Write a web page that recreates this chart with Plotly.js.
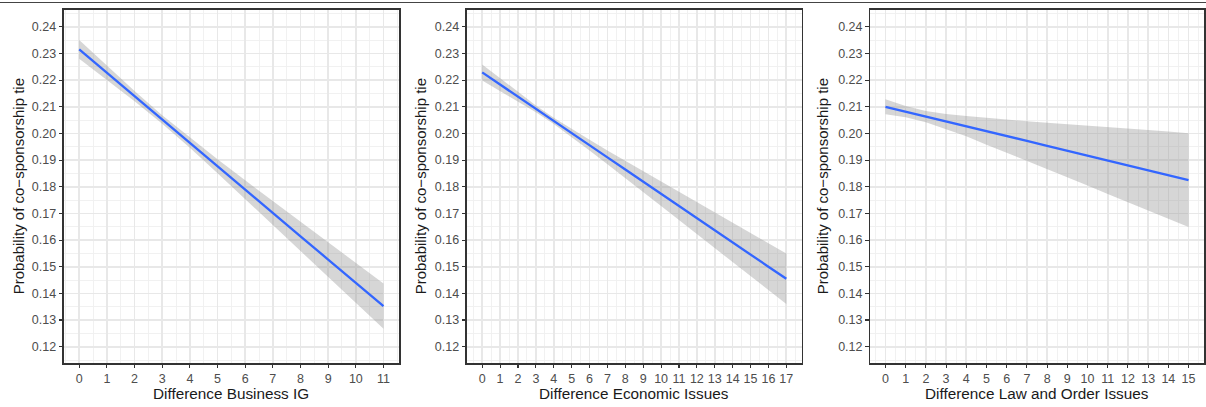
<!DOCTYPE html>
<html>
<head>
<meta charset="utf-8">
<script src="https://cdn.plot.ly/plotly-3.0.1.min.js"></script>
<style>html,body{margin:0;padding:0;background:#fff;}#chart{width:1206px;height:407px;}</style>
</head>
<body>
<div id="chart"></div>
<script>
// ---- data ----
const yTitle = "Probability of co\u2212sponsorship tie";
const xTitles = ["Difference Business IG", "Difference Economic Issues", "Difference Law and Order Issues"];

const bizX     = [0, 1, 2, 3, 4, 5, 6, 7, 8, 9, 10, 11];
const bizFit   = [0.2315, 0.2227, 0.2140, 0.2052, 0.1965, 0.1877, 0.1789, 0.1702, 0.1614, 0.1527, 0.1439, 0.1352];
const bizUpper = [0.2350, 0.2253, 0.2159, 0.2068, 0.1984, 0.1903, 0.1824, 0.1747, 0.1668, 0.1591, 0.1514, 0.1437];
const bizLower = [0.2280, 0.2201, 0.2121, 0.2036, 0.1946, 0.1851, 0.1754, 0.1657, 0.1560, 0.1463, 0.1364, 0.1267];

const ecoX     = [0, 1, 2, 3, 4, 5, 6, 7, 8, 9, 10, 11, 12, 13, 14, 15, 16, 17];
const ecoFit   = [0.2229, 0.2183, 0.2138, 0.2092, 0.2047, 0.2001, 0.1956, 0.1910, 0.1865, 0.1819, 0.1774, 0.1728, 0.1683, 0.1637, 0.1592, 0.1546, 0.1500, 0.1455];
const ecoUpper = [0.2259, 0.2207, 0.2156, 0.2105, 0.2059, 0.2016, 0.1976, 0.1936, 0.1897, 0.1858, 0.1820, 0.1781, 0.1743, 0.1704, 0.1666, 0.1627, 0.1588, 0.1550];
const ecoLower = [0.2199, 0.2159, 0.2120, 0.2079, 0.2035, 0.1986, 0.1936, 0.1884, 0.1833, 0.1780, 0.1728, 0.1675, 0.1623, 0.1570, 0.1518, 0.1465, 0.1412, 0.1360];

const lawX     = [0, 1, 2, 3, 4, 5, 6, 7, 8, 9, 10, 11, 12, 13, 14, 15];
const lawFit   = [0.2100, 0.2082, 0.2063, 0.2045, 0.2027, 0.2008, 0.1990, 0.1972, 0.1953, 0.1935, 0.1917, 0.1898, 0.1880, 0.1862, 0.1843, 0.1825];
const lawUpper = [0.2128, 0.2103, 0.2084, 0.2073, 0.2065, 0.2058, 0.2052, 0.2046, 0.2040, 0.2035, 0.2029, 0.2023, 0.2018, 0.2013, 0.2007, 0.2001];
const lawLower = [0.2072, 0.2061, 0.2042, 0.2017, 0.1989, 0.1958, 0.1928, 0.1898, 0.1866, 0.1835, 0.1805, 0.1773, 0.1742, 0.1711, 0.1679, 0.1649];

const yTickVals = [0.12, 0.13, 0.14, 0.15, 0.16, 0.17, 0.18, 0.19, 0.20, 0.21, 0.22, 0.23, 0.24];
const yTickText = ["0.12", "0.13", "0.14", "0.15", "0.16", "0.17", "0.18", "0.19", "0.20", "0.21", "0.22", "0.23", "0.24"];

// ---- layout ----
const W = 1206, H = 407;
const panels = [
  {x: bizX, fit: bizFit, up: bizUpper, lo: bizLower, px: [64, 398.7], title: xTitles[0], ytx: 18},
  {x: ecoX, fit: ecoFit, up: ecoUpper, lo: ecoLower, px: [467, 801.5], title: xTitles[1], ytx: 420},
  {x: lawX, fit: lawFit, up: lawUpper, lo: lawLower, px: [870.3, 1203.7], title: xTitles[2], ytx: 822}
];
const plotTop = 10, plotBot = 362.7;
const yDomain = [1 - plotBot / H, 1 - plotTop / H];

const traces = [];
const layout = {
  width: W, height: H,
  margin: {l: 0, r: 0, t: 0, b: 0},
  paper_bgcolor: '#ffffff', plot_bgcolor: '#ffffff',
  showlegend: false,
  font: {family: 'Liberation Sans, Arial, sans-serif', color: '#4d4d4d', size: 12},
  annotations: [],
  shapes: [{type: 'line', xref: 'paper', yref: 'paper', x0: 0, x1: 1, y0: 1 - 2.5 / H, y1: 1 - 2.5 / H,
            line: {color: '#444444', width: 1}}]
};

panels.forEach((p, i) => {
  const n = i === 0 ? '' : String(i + 1);
  const xa = 'x' + n, ya = 'y' + n;
  traces.push({x: p.x, y: p.up, xaxis: xa, yaxis: ya, mode: 'lines', line: {width: 0, color: 'rgba(0,0,0,0)'}, hoverinfo: 'skip'});
  traces.push({x: p.x, y: p.lo, xaxis: xa, yaxis: ya, mode: 'lines', line: {width: 0, color: 'rgba(0,0,0,0)'},
               fill: 'tonexty', fillcolor: 'rgba(153,153,153,0.4)', hoverinfo: 'skip'});
  traces.push({x: p.x, y: p.fit, xaxis: xa, yaxis: ya, mode: 'lines', line: {width: 2.3, color: '#3366FF'}});

  const xmax = p.x[p.x.length - 1];
  const pad = xmax * 0.05;
  layout['xaxis' + n] = {
    domain: [p.px[0] / W, p.px[1] / W], anchor: ya,
    range: [-pad, xmax + pad], tickmode: 'linear', tick0: 0, dtick: 1,
    ticks: 'outside', ticklen: 3.5, tickwidth: 1.1, tickcolor: '#333333',
    showline: true, mirror: true, linecolor: '#333333', linewidth: 1.8,
    showgrid: true, gridcolor: '#e8e8e8', gridwidth: 1.6,
    minor: {dtick: 0.5, showgrid: true, gridcolor: '#efefef', gridwidth: 0.9},
    zeroline: false, tickfont: {size: 12.5, color: '#4d4d4d'}, fixedrange: true
  };
  layout['yaxis' + n] = {
    domain: yDomain, anchor: xa,
    range: [0.1140, 0.2463], tickmode: 'array', tickvals: yTickVals, ticktext: yTickText,
    ticks: 'outside', ticklen: 3.5, tickwidth: 1.1, tickcolor: '#333333',
    showline: true, mirror: true, linecolor: '#333333', linewidth: 1.8,
    showgrid: true, gridcolor: '#e8e8e8', gridwidth: 1.6,
    minor: {tickvals: [0.115, 0.125, 0.135, 0.145, 0.155, 0.165, 0.175, 0.185, 0.195, 0.205, 0.215, 0.225, 0.235, 0.245],
            showgrid: true, gridcolor: '#efefef', gridwidth: 0.9, ticks: ''},
    zeroline: false, tickfont: {size: 12.5, color: '#4d4d4d'}, fixedrange: true
  };
  layout.annotations.push({
    text: p.title, xref: 'paper', yref: 'paper',
    x: (p.px[0] + p.px[1]) / 2 / W, y: 1 - 393 / H, xanchor: 'center', yanchor: 'middle',
    showarrow: false, font: {size: 15.3, color: '#1a1a1a'}
  });
  layout.annotations.push({
    text: yTitle, xref: 'paper', yref: 'paper', textangle: -90,
    x: p.ytx / W, y: 1 - ((plotTop + plotBot) / 2) / H, xanchor: 'center', yanchor: 'middle',
    showarrow: false, font: {size: 15, color: '#1a1a1a'}
  });
});

Plotly.newPlot('chart', traces, layout, {displayModeBar: false, staticPlot: true});
</script>
</body>
</html>
